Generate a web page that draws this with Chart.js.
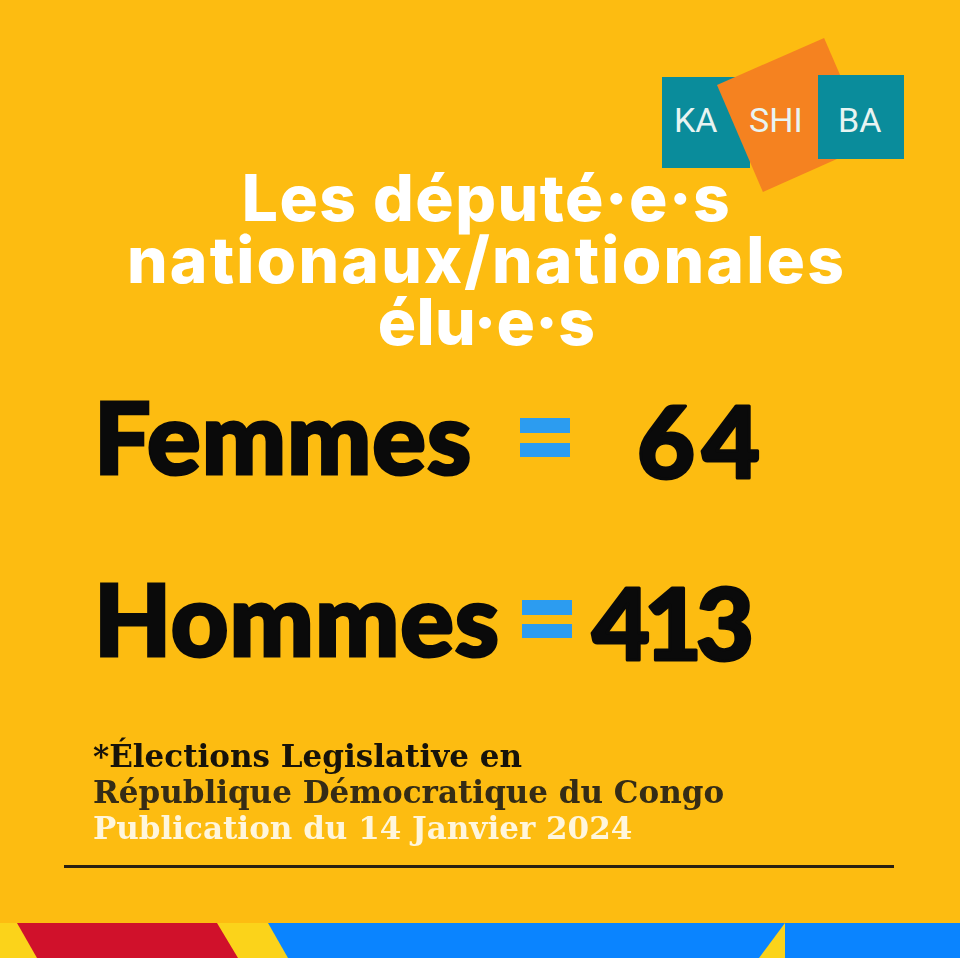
<!DOCTYPE html>
<html lang="fr">
<head>
<meta charset="utf-8">
<title>Les député·e·s nationaux/nationales élu·e·s</title>
<script src="https://cdn.jsdelivr.net/npm/chart.js@4"></script>
<style>
  html, body { margin: 0; padding: 0; background: #fdbc11; }
  #page { position: relative; width: 960px; height: 958px; overflow: hidden; background: #fdbc11; }
  #page canvas { position: absolute; left: 0; top: 0; }
  .abs { position: absolute; }
  .head { left: 0; width: 973px; text-align: center; color: #fff; font: 800 64px/62px Inter, sans-serif; white-space: nowrap; }
  .foot { left: 93px; font: bold 31px/36px "DejaVu Serif", serif; white-space: nowrap; }
  .logo { color: #e8f4f2; font: 400 34px/36px Roboto, sans-serif; top: 102px; }
</style>
</head>
<body>
<div id="page">
  <div class="abs" style="left:662px;top:77px;width:88px;height:91px;background:#0a8c9b"></div>
  <div class="abs" style="left:717px;top:38px;width:153px;height:154px;background:#f58220;clip-path:polygon(70% 0,100% 69%,30% 100%,0 30.5%)"></div>
  <div class="abs" style="left:818px;top:75px;width:86px;height:84px;background:#0a8c9b"></div>
  <div class="abs logo" style="left:674px">KA</div>
  <div class="abs logo" style="left:749px">SHI</div>
  <div class="abs logo" style="left:838px">BA</div>

  <div class="abs head" style="top:167px;letter-spacing:1.5px">Les député·e·s</div>
  <div class="abs head" style="top:229px;letter-spacing:2.2px">nationaux/nationales</div>
  <div class="abs head" style="top:291px;letter-spacing:0.3px">élu·e·s</div>

  <canvas id="chart" width="960" height="958"></canvas>

  <div class="abs foot" style="top:738px;color:#17130a">*Élections Legislative en</div>
  <div class="abs foot" style="top:774px;color:#352c16">République Démocratique du Congo</div>
  <div class="abs foot" style="top:810px;color:#fff6dc">Publication du 14 Janvier 2024</div>

  <div class="abs" style="left:64px;top:865px;width:830px;height:2.5px;background:#2a2010"></div>

  <div class="abs" style="left:0;top:923px;width:960px;height:35px;background:#fbd31a"></div>
  <div class="abs" style="left:0;top:923px;width:960px;height:35px;background:#d0112b;clip-path:polygon(17px 0,217px 0,238px 100%,37px 100%)"></div>
  <div class="abs" style="left:0;top:923px;width:960px;height:35px;background:#0a84ff;clip-path:polygon(268px 0,785px 0,759px 100%,288px 100%)"></div>
  <div class="abs" style="left:785px;top:923px;width:175px;height:35px;background:#0a84ff"></div>
</div>
<script>
const rowLabels = ['Femmes', 'Hommes'];
const rowValues = [64, 413];

// the "=" sign and the number of each row, placed on the row's tick
const equalsRows = {
  id: 'equalsRows',
  beforeDraw(chart) {
    chart.ctx.letterSpacing = '1px';
  },
  afterDraw(chart) {
    const ctx = chart.ctx;
    const y = chart.scales.y;
    const eqX = [520, 522];
    const numLeft = [637, 592];
    const numSpacing = ['7px', '-6px'];
    rowValues.forEach((v, i) => {
      const cy = y.getPixelForTick(i);
      ctx.save();
      ctx.fillStyle = '#2c9cf0';
      ctx.fillRect(eqX[i], cy - 24, 50, 15);
      ctx.fillRect(eqX[i], cy + 1 - i, 50, 14);
      ctx.fillStyle = ctx.strokeStyle = '#0a0a0a';
      ctx.lineWidth = 3;
      ctx.lineJoin = 'round';
      ctx.font = '900 100px Lato, sans-serif';
      ctx.letterSpacing = numSpacing[i];
      ctx.textAlign = 'left';
      ctx.textBaseline = 'alphabetic';
      ctx.fillText(String(v), numLeft[i], cy + 36);
      ctx.strokeText(String(v), numLeft[i], cy + 36);
      ctx.restore();
    });
  }
};

new Chart(document.getElementById('chart'), {
  type: 'bar',
  data: {
    labels: rowLabels,
    datasets: [{ data: rowValues, backgroundColor: 'transparent' }]
  },
  options: {
    indexAxis: 'y',
    responsive: false,
    animation: false,
    layout: { padding: { left: 94, top: 351, bottom: 243, right: 0 } },
    plugins: { legend: { display: false }, tooltip: { enabled: false } },
    scales: {
      x: { display: false, min: 0, max: 500 },
      y: {
        border: { display: false },
        grid: { display: false },
        afterFit(scale) { scale.width += 30; }, // room for the letter spacing
        ticks: {
          crossAlign: 'far',
          padding: 0,
          color: '#0a0a0a',
          textStrokeColor: '#0a0a0a',
          textStrokeWidth: 3,
          font: { family: 'Lato', weight: 900, size: 100 }
        }
      }
    }
  },
  plugins: [equalsRows]
});
</script>
</body>
</html>
